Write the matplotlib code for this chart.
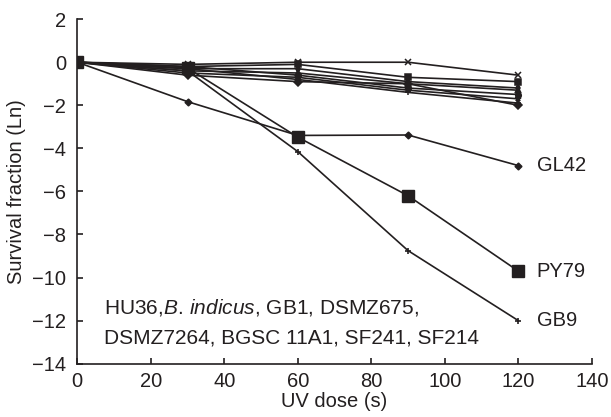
import matplotlib
matplotlib.use("Agg")
import matplotlib.pyplot as plt

plt.rcParams['font.family'] = ['Liberation Sans', 'DejaVu Sans']
plt.rcParams['mathtext.fontset'] = 'custom'
plt.rcParams['mathtext.rm'] = 'Liberation Sans'
plt.rcParams['mathtext.it'] = 'Liberation Sans:italic'

dose = [0, 30, 60, 90, 120]

# the eight resistant strains grouped at the top
others = [
    [0, -0.1, 0.0, 0.0, -0.6],
    [0, -0.2, -0.1, -0.7, -0.9],
    [0, -0.3, -0.3, -0.9, -1.2],
    [0, -0.4, -0.5, -1.0, -1.3],
    [0, -0.2, -0.6, -1.2, -1.5],
    [0, -0.5, -0.7, -1.3, -1.7],
    [0, -0.3, -0.8, -1.4, -1.9],
    [0, -0.6, -0.9, -1.0, -2.0],
]
other_markers = ['x', 's', 'd', '^', 'o', '*', '+', 'D']

gl42 = [0, -1.83, -3.4, -3.38, -4.8]
py79 = [0, -0.27, -3.48, -6.2, -9.7]
gb9 = [0, -0.4, -4.15, -8.75, -12.0]

text_line1 = 'HU36,$\\mathit{B.\\,indicus}$, GB1, DSMZ675,'
text_line2 = 'DSMZ7264, BGSC 11A1, SF241, SF214'

ink = '#231f20'
fig = plt.figure(figsize=(6.11, 4.17), dpi=100)
ax = fig.add_axes([0.1265, 0.128, 0.842, 0.826])

for vals, m in zip(others, other_markers):
    ax.plot(dose, vals, color=ink, lw=1.2, marker=m, ms=4, mew=1.1)

ax.plot(dose, gl42, color=ink, lw=1.2, marker='D', ms=3.5)
ax.plot(dose, py79, color=ink, lw=1.2, marker='s', ms=8)
ax.plot(dose, gb9, color=ink, lw=1.2, marker='+', ms=5, mew=1.2)

fs = 14.5
ax.text(125, gl42[-1], 'GL42', fontsize=fs, va='center', ha='left', color=ink)
ax.text(125, py79[-1], 'PY79', fontsize=fs, va='center', ha='left', color=ink)
ax.text(125, gb9[-1], 'GB9', fontsize=fs, va='center', ha='left', color=ink)

ax.text(7.4, -11.67, text_line1, fontsize=15, va='baseline', ha='left', color=ink)
ax.text(7.2, -13.05, text_line2, fontsize=15, va='baseline', ha='left', color=ink)

ax.set_xlim(0, 140)
ax.set_ylim(-14, 2)
ax.set_xticks(range(0, 141, 20))
ax.set_yticks(range(-14, 3, 2))
ax.set_yticklabels([str(v).replace('-', '\u2212') for v in range(-14, 3, 2)])
ax.tick_params(direction='in', labelsize=fs, length=4, width=1.2, colors=ink)
ax.tick_params(axis='x', pad=6)
ax.tick_params(axis='y', pad=8)
ax.spines['top'].set_visible(False)
ax.spines['right'].set_visible(False)
for s in ('left', 'bottom'):
    ax.spines[s].set_linewidth(1.2)
    ax.spines[s].set_color(ink)
ax.set_xlabel('UV dose (s)', fontsize=fs, labelpad=1, color=ink)
ax.set_ylabel('Survival fraction (Ln)', fontsize=fs, labelpad=4, color=ink)

fig.savefig('out.png', dpi=100)
